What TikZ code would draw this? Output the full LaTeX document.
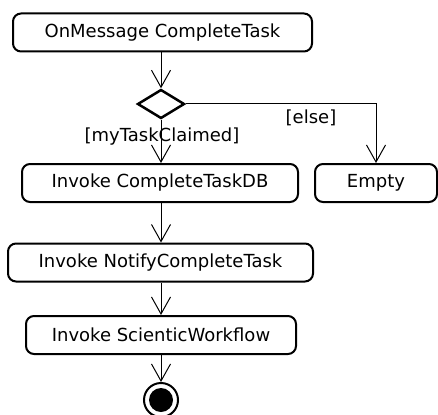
\documentclass[tikz,border=0pt]{standalone}
\usepackage{fontspec}
\setmainfont{DejaVu Sans}
\usetikzlibrary{arrows.meta,shapes.geometric}
\begin{document}
\begin{tikzpicture}[x=1pt,y=-1pt,
  act/.style={draw,line width=2pt,rounded corners=8pt,minimum height=38pt,inner sep=0pt,font=\fontsize{18}{20}\selectfont},
  flow/.style={line width=1pt,-{Straight Barb[length=17pt,width=19pt,line width=1pt]}},
  lbl/.style={font=\fontsize{18}{20}\selectfont,inner sep=0pt}]
\useasboundingbox (0,0) rectangle (438,414);
\node[act,minimum width=299pt] (start) at (162.5,32.5) {OnMessage CompleteTask};
\node[draw,diamond,line width=2.5pt,minimum width=47pt,minimum height=29pt,inner sep=0pt,aspect=1.6] (dec) at (161,104) {};
\node[act,minimum width=276pt] (db) at (160,183) {Invoke CompleteTaskDB};
\node[act,minimum width=122pt] (empty) at (376,183) {Empty};
\node[act,minimum width=305pt] (notify) at (160.5,262.5) {Invoke NotifyCompleteTask};
\node[act,minimum width=270pt] (sci) at (161,335) {Invoke ScienticWorkflow};
\node[circle,draw,line width=2pt,minimum size=34pt,inner sep=0pt] (end) at (161,400) {};
\fill (end.center) circle (12pt);
\draw[flow] (start.south -| dec) -- (dec.north);
\draw[flow] (dec.south) -- (db.north -| dec);
\draw[flow] (dec.east) -| (empty.north);
\draw[flow] (db.south -| dec) -- (notify.north -| dec);
\draw[flow] (notify.south -| dec) -- (sci.north -| dec);
\draw[flow] (sci.south -| dec) -- (end.north);
\node[lbl] (g1) at (162,137) {[myTaskClaimed]};
\node[lbl] (g2) at (311,118) {[else]};
\end{tikzpicture}
\end{document}
